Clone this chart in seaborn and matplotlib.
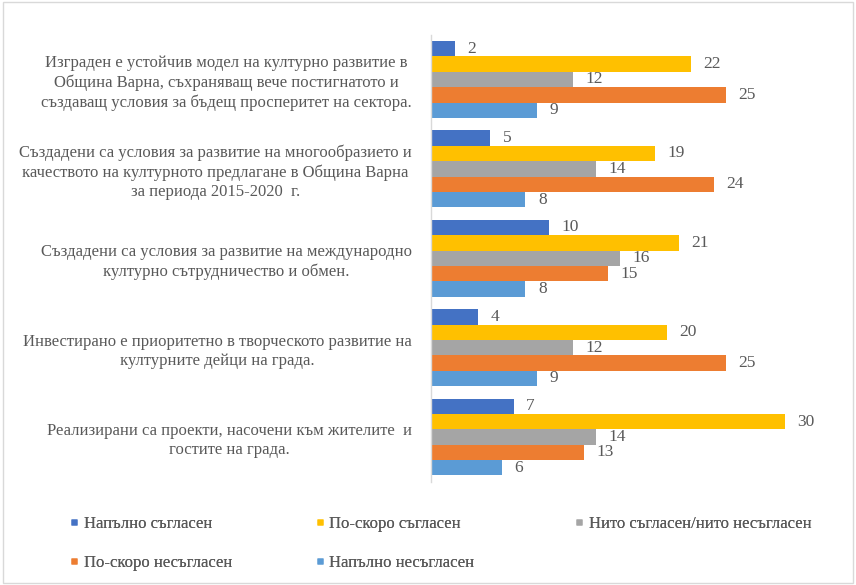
import matplotlib
matplotlib.use("Agg")
import matplotlib.pyplot as plt
import seaborn as sns
import pandas as pd
from matplotlib.patches import Rectangle
from matplotlib.lines import Line2D

statements = [
    "Изграден е устойчив модел на културно развитие в\nОбщина Варна, съхраняващ вече постигнатото и\nсъздаващ условия за бъдещ просперитет на сектора.",
    "Създадени са условия за развитие на многообразието и\nкачеството на културното предлагане в Община Варна\nза периода 2015-2020  г.",
    "Създадени са условия за развитие на международно\nкултурно сътрудничество и обмен.",
    "Инвестирано е приоритетно в творческото развитие на\nкултурните дейци на града.",
    "Реализирани са проекти, насочени към жителите  и\nгостите на града.",
]
answers = [
    "Напълно съгласен",
    "По-скоро съгласен",
    "Нито съгласен/нито несъгласен",
    "По-скоро несъгласен",
    "Напълно несъгласен",
]
fully_agree = [2, 5, 10, 4, 7]
rather_agree = [22, 19, 21, 20, 30]
neutral = [12, 14, 16, 12, 14]
rather_disagree = [25, 24, 15, 25, 13]
fully_disagree = [9, 8, 8, 9, 6]
colors = ["#4472C4", "#FFC000", "#A5A5A5", "#ED7D31", "#5B9BD5"]

series = [fully_agree, rather_agree, neutral, rather_disagree, fully_disagree]
rows = []
for ans, vals in zip(answers, series):
    for st, v in zip(statements, vals):
        rows.append({"statement": st, "answer": ans, "count": v})
df = pd.DataFrame(rows)

sns.set_style("white")
plt.rcParams["font.family"] = ["Liberation Serif", "DejaVu Serif"]
text_color = "#595959"

fig = plt.figure(figsize=(8.56, 5.85), dpi=100)
ax = fig.add_axes([0.5035, 0.1766, 0.4825, 0.764])

sns.barplot(data=df, x="count", y="statement", hue="answer",
            order=statements, hue_order=answers, palette=colors,
            orient="h", width=0.86, gap=0, saturation=1,
            edgecolor="none", legend=False, ax=ax)

for cont in ax.containers:
    ax.bar_label(cont, padding=9, fontsize=12.5, color=text_color)

ax.set_xlim(0, 35)
ax.set_xlabel("")
ax.set_ylabel("")
ax.set_xticks([])
ax.tick_params(axis="y", length=0, pad=14)
for lab in ax.get_yticklabels():
    lab.set_multialignment("center")
    lab.set_fontsize(12)
    lab.set_color(text_color)
    lab.set_linespacing(1.25)
for side in ["top", "right", "bottom"]:
    ax.spines[side].set_visible(False)
ax.spines["left"].set_color("#D9D9D9")
ax.spines["left"].set_linewidth(1)

# legend laid out row by row in three columns
handles = [Line2D([], [], marker="s", linestyle="none", markersize=5,
                  markerfacecolor=c, markeredgecolor="none") for c in colors]
columns = [([0, 3], 0.082), ([1, 4], 0.369), ([2], 0.672)]
for idx, x0 in columns:
    leg = fig.legend([handles[i] for i in idx], [answers[i] for i in idx],
                     loc="upper left", bbox_to_anchor=(x0, 0.118),
                     frameon=False, fontsize=12, handlelength=0.5,
                     handletextpad=0.3, labelspacing=1.4,
                     labelcolor=text_color, borderaxespad=0, borderpad=0)
    fig.add_artist(leg)

fig.add_artist(Rectangle((0.004, 0.003), 0.992, 0.994, transform=fig.transFigure,
                         fill=False, edgecolor="#D9D9D9", linewidth=1))

fig.savefig("out.png", dpi=100, facecolor="white")
